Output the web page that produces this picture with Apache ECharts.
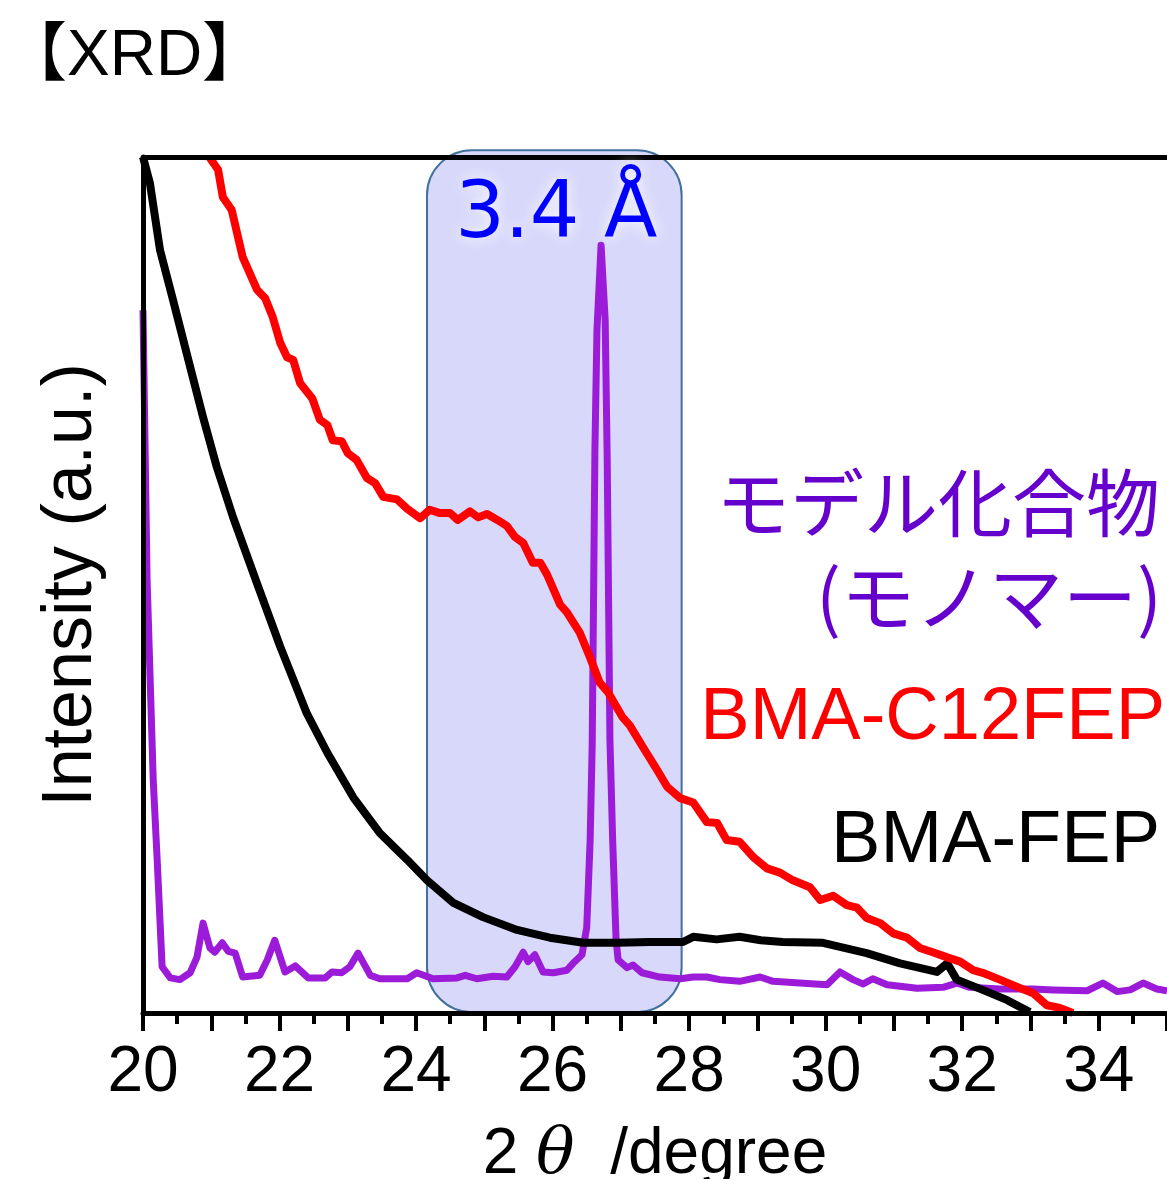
<!DOCTYPE html>
<html>
<head>
<meta charset="utf-8">
<script src="https://cdn.jsdelivr.net/npm/echarts@6/dist/echarts.min.js"></script>
<style>
html, body { margin: 0; padding: 0; background: #fff; }
#container { width: 1167px; height: 1179px; }
</style>
</head>
<body>
<div id="container"></div>
<script>
// [2θ, intensity]
var bmaFep = [[20.00,100],[20.10,97.0],[20.25,89.1],[20.44,83.3],[20.69,75.5],[20.88,69.6],[21.08,63.8],
	[21.32,57.9],[21.67,50.2],[22.01,42.8],[22.40,35.0],[22.70,30.4],[23.08,25.2],[23.47,21.0],[23.87,17.9],
	[24.16,15.5],[24.54,12.9],[24.98,11.2],[25.48,9.7],[25.96,8.8],[26.45,8.2],[26.94,8.2],[27.43,8.3],
	[27.91,8.3],[28.06,8.9],[28.40,8.6],[28.74,8.9],[29.05,8.5],[29.37,8.3],[29.96,8.2],[30.60,7.0],[31.09,5.8],
	[31.63,4.8],[31.78,5.8],[31.92,3.9],[32.30,2.7],[32.66,1.5],[32.99,0.1]];
var bmaC12Fep = [[20.97,100],[21.10,98.5],[21.17,95.3],[21.30,93.8],[21.46,88.3],[21.67,84.5],[21.79,83.5],
	[21.90,81.3],[22.01,78.3],[22.11,76.6],[22.20,76.3],[22.30,73.6],[22.48,71.8],[22.59,69.3],[22.70,68.7],
	[22.78,66.9],[22.91,66.8],[23.00,65.4],[23.13,64.6],[23.28,62.5],[23.40,61.9],[23.52,60.3],[23.72,60.0],
	[23.87,58.9],[24.06,57.8],[24.20,58.8],[24.35,58.4],[24.50,58.4],[24.61,57.6],[24.79,58.6],[24.91,57.9],
	[25.04,58.3],[25.19,57.6],[25.33,56.9],[25.45,55.6],[25.57,54.9],[25.71,52.6],[25.82,52.6],[25.92,51.2],
	[26.11,47.7],[26.21,46.8],[26.40,44.4],[26.55,41.5],[26.69,38.6],[26.81,37.5],[27.02,34.6],[27.13,33.6],
	[27.32,31.1],[27.53,28.4],[27.68,26.4],[27.87,25.1],[28.06,24.6],[28.26,22.3],[28.41,22.2],[28.55,20.2],
	[28.74,20.0],[28.94,18.2],[29.14,16.9],[29.33,16.4],[29.52,15.5],[29.77,14.7],[29.92,13.2],[30.11,13.7],
	[30.31,12.6],[30.46,12.3],[30.60,11.1],[30.80,10.5],[30.99,9.3],[31.19,8.8],[31.38,7.6],[31.57,7.1],
	[31.78,6.5],[31.97,6.0],[32.16,5.0],[32.30,4.7],[32.55,3.9],[32.85,2.9],[33.04,2.3],[33.24,0.9],
	[33.43,0.6],[33.62,0]];
var monomer = [[20.00,82.1],[20.06,50.6],[20.15,27.2],[20.21,17.5],[20.28,5.4],[20.40,4.1],[20.54,3.9],
	[20.69,4.7],[20.79,6.5],[20.88,10.5],[20.98,7.6],[21.05,7.1],[21.16,8.2],[21.25,7.2],[21.35,7.0],
	[21.46,4.2],[21.71,4.4],[21.82,6.2],[21.93,8.5],[22.08,4.8],[22.23,5.5],[22.42,4.1],[22.67,4.1],
	[22.77,4.8],[22.91,4.7],[23.03,5.4],[23.15,7.0],[23.33,4.4],[23.47,4.0],[23.87,4.0],[24.01,4.7],
	[24.25,4.0],[24.60,4.1],[24.72,4.4],[24.89,4.0],[25.13,4.3],[25.33,4.2],[25.45,5.4],[25.57,7.1],
	[25.64,6.0],[25.74,6.8],[25.86,4.8],[26.01,4.7],[26.21,5.0],[26.30,5.8],[26.43,6.8],[26.50,10.0],
	[26.55,20.2],[26.58,31.3],[26.62,65.8],[26.65,79.8],[26.71,89.7],[26.77,81.0],[26.80,64.6],[26.84,31.9],
	[26.88,20.2],[26.93,8.5],[26.96,6.2],[27.09,5.3],[27.18,5.6],[27.31,4.7],[27.57,4.2],[27.87,4.0],
	[28.06,4.2],[28.26,4.2],[28.45,3.9],[28.74,3.7],[29.04,4.2],[29.23,3.7],[29.62,3.5],[30.02,3.3],
	[30.21,4.8],[30.40,3.9],[30.55,3.4],[30.69,4.0],[30.90,3.3],[31.34,2.9],[31.72,3.0],[31.92,3.5],
	[32.11,3.0],[32.55,2.8],[33.04,2.8],[33.33,2.7],[33.83,2.6],[34.06,3.5],[34.27,2.5],[34.46,2.7],
	[34.65,3.5],[34.85,2.8],[35.00,2.6]];
var xTicks = [20, 22, 24, 26, 28, 30, 32, 34];
var boxX = [24.16, 27.89];   // highlighted 3.4 Å region
var boxY = [0.1, 100.8];

var dom = document.getElementById("container");
var myChart = echarts.init(dom);
var latin = "'Liberation Sans', Arial, sans-serif";
var cjk = "'Liberation Sans', 'Noto Sans CJK JP', sans-serif";

var option = {
	animation: false,
	title: {
		text: '【XRD】',
		left: -2, top: 20,
		textStyle: { fontFamily: cjk, fontSize: 64, fontWeight: 'normal', color: '#000' }
	},
	grid: { left: 143, right: 0, top: 157, bottom: 166, outerBoundsMode: 'none', containLabel: false },
	xAxis: [{
		type: 'value', min: 20, max: 35, interval: 1,
		axisLine: { lineStyle: { color: '#000', width: 5 } },
		axisTick: { length: 18, lineStyle: { color: '#000', width: 4 } },
		minorTick: { show: true, splitNumber: 2, length: 11, lineStyle: { color: '#000', width: 4 } },
		splitLine: { show: false },
		axisLabel: {
			margin: 28, fontSize: 64, fontFamily: latin, color: '#000',
			formatter: function (v) { return xTicks.indexOf(v) >= 0 ? String(v) : ''; }
		},
		name: '2 {t|θ}  /degree', nameLocation: 'middle', nameGap: 110,
		nameTextStyle: {
			fontSize: 64, fontFamily: latin, color: '#000',
			rich: { t: { fontSize: 64, fontStyle: 'italic', fontFamily: "'DejaVu Serif', serif", color: '#000' } }
		},
		z: 5
	}, {
		type: 'value', position: 'top', min: 20, max: 35,
		axisLine: { lineStyle: { color: '#000', width: 5 } },
		axisTick: { show: false }, axisLabel: { show: false }, splitLine: { show: false },
		z: 5
	}],
	yAxis: {
		type: 'value', min: 0, max: 100,
		axisLine: { show: true, lineStyle: { color: '#000', width: 5 } },
		axisTick: { show: false }, axisLabel: { show: false }, splitLine: { show: false },
		name: 'Intensity (a.u.)', nameLocation: 'middle', nameGap: 36,
		nameTextStyle: { fontSize: 70, fontFamily: latin, color: '#000' },
		z: 5
	},
	series: [{
		name: 'モデル化合物', type: 'line', data: monomer, showSymbol: false,
		lineStyle: { color: '#9b1bd8', width: 7, join: 'round' }, z: 3
	}, {
		name: 'BMA-FEP', type: 'line', data: bmaFep, showSymbol: false,
		lineStyle: { color: '#000', width: 8, join: 'round' }, z: 3
	}, {
		name: 'BMA-C12FEP', type: 'line', data: bmaC12Fep, showSymbol: false,
		lineStyle: { color: '#ff0000', width: 8, join: 'round' }, z: 3
	}]
};
myChart.setOption(option);

// box and labels placed from data coordinates
var p0 = myChart.convertToPixel({ gridIndex: 0 }, [boxX[0], boxY[1]]);
var p1 = myChart.convertToPixel({ gridIndex: 0 }, [boxX[1], boxY[0]]);
var pt = myChart.convertToPixel({ gridIndex: 0 }, [(boxX[0] + boxX[1]) / 2, 93.0]);
myChart.setOption({
	graphic: [{
		type: 'rect', z: 1, silent: true,
		shape: { x: p0[0], y: p0[1], width: p1[0] - p0[0], height: p1[1] - p0[1], r: 45 },
		style: { fill: '#d8d8fb', stroke: '#41719c', lineWidth: 2 }
	}, {
		type: 'text', z: 10, x: pt[0] + 2, y: pt[1],
		style: {
			text: '3.4 Å', fill: '#0000ff', font: "78px 'DejaVu Sans', sans-serif",
			align: 'center', verticalAlign: 'middle', textShadowColor: '#fff', textShadowBlur: 14
		}
	}, {
		type: 'text', z: 10, x: 1160, y: 503,
		style: { text: 'モデル化合物', fill: '#6600cc', font: "74px 'Noto Sans CJK JP', sans-serif", align: 'right', verticalAlign: 'middle' }
	}, {
		type: 'text', z: 10, x: 1162, y: 597,
		style: { text: '(モノマー)', fill: '#6600cc', font: "74px 'Noto Sans CJK JP', sans-serif", align: 'right', verticalAlign: 'middle' }
	}, {
		type: 'text', z: 10, x: 1165, y: 719,
		style: { text: 'BMA-C12FEP', fill: '#ff0000', font: "74px 'Liberation Sans', Arial, sans-serif", align: 'right', verticalAlign: 'middle' }
	}, {
		type: 'text', z: 10, x: 1160, y: 842,
		style: { text: 'BMA-FEP', fill: '#000', font: "74px 'Liberation Sans', Arial, sans-serif", align: 'right', verticalAlign: 'middle' }
	}]
});
</script>
</body>
</html>
